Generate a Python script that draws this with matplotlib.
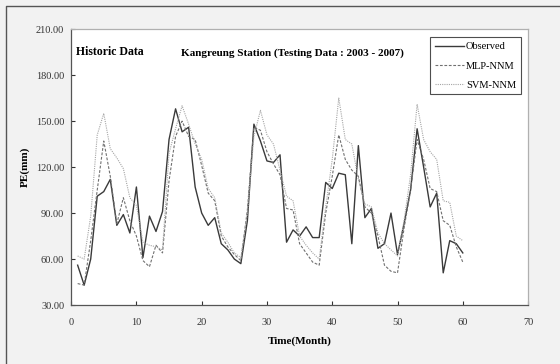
import matplotlib.pyplot as plt
from matplotlib.lines import Line2D

plt.rcParams['font.family'] = ['Liberation Serif', 'DejaVu Serif']

# monthly PE values (testing data 2003 - 2007)
months = list(range(1, 61))
observed = [56, 43, 60, 101, 104, 112, 82, 89, 77, 107,
            61, 88, 78, 91, 138, 158, 143, 146, 107, 90,
            82, 87, 70, 66, 60, 57, 85, 148, 137, 124,
            123, 128, 71, 79, 75, 81, 74, 74, 110, 106,
            116, 115, 70, 134, 87, 93, 67, 70, 90, 63,
            83, 105, 145, 120, 94, 103, 51, 72, 70, 64]
mlp_nnm = [44, 43, 72, 105, 137, 114, 83, 100, 85, 75,
           59, 55, 69, 64, 111, 140, 150, 140, 138, 121,
           103, 98, 75, 68, 63, 59, 92, 146, 144, 130,
           122, 115, 93, 92, 70, 64, 58, 56, 90, 114,
           141, 125, 118, 114, 94, 90, 75, 56, 52, 51,
           80, 105, 138, 125, 106, 104, 85, 82, 68, 58]
svm_nnm = [62, 60, 88, 141, 155, 132, 126, 119, 100, 95,
           71, 69, 68, 66, 129, 145, 160, 148, 135, 125,
           106, 100, 77, 71, 64, 61, 90, 140, 157, 141,
           135, 118, 101, 98, 75, 69, 64, 60, 94, 125,
           165, 138, 135, 112, 96, 94, 77, 70, 66, 62,
           85, 115, 161, 138, 130, 125, 98, 97, 75, 72]

x_ticks = [0, 10, 20, 30, 40, 50, 60, 70]
y_ticks = [30, 60, 90, 120, 150, 180, 210]

fig = plt.figure(figsize=(5.6, 3.64), dpi=100, facecolor='#f2f2f2')
# outer frame (only top and left edges show in the original)
fig.lines.append(Line2D([0.011, 0.011, 1.0], [0.0, 0.983, 0.983], transform=fig.transFigure,
                        color='#555555', linewidth=1.0))
ax = fig.add_axes([0.127, 0.162, 0.816, 0.758])

ax.plot(months, observed, color='#3a3a3a', linewidth=1.0, label='Observed')
ax.plot(months, mlp_nnm, color='#707070', linewidth=0.8, linestyle=(0, (2.5, 1.5)), label='MLP-NNM')
ax.plot(months, svm_nnm, color='#a5a5a5', linewidth=0.8, linestyle=(0, (1, 1)), label='SVM-NNM')

ax.set_xlim(0, 70)
ax.set_ylim(30, 210)
ax.set_xticks(x_ticks)
ax.set_yticks(y_ticks)
ax.set_yticklabels([f'{v:.2f}' for v in y_ticks])
ax.tick_params(direction='in', length=3, width=0.8, labelsize=7.5, colors='#333333')
ax.tick_params(axis='y', pad=5)
ax.tick_params(axis='x', pad=9)
for side in ['left', 'bottom']:
    ax.spines[side].set_color('#555555')
    ax.spines[side].set_linewidth(0.9)
for side in ['top', 'right']:
    ax.spines[side].set_color('#b0b0b0')
    ax.spines[side].set_linewidth(0.9)

ax.set_xlabel('Time(Month)', fontsize=8, fontweight='bold', labelpad=7)
ax.set_ylabel('PE(mm)', fontsize=8, fontweight='bold', labelpad=4)

ax.text(0.01, 0.905, 'Historic Data', transform=ax.transAxes, fontsize=8.5, fontweight='bold')
ax.text(0.241, 0.905, 'Kangreung Station (Testing Data : 2003 - 2007)', transform=ax.transAxes,
        fontsize=8.0, fontweight='bold')

leg = ax.legend(loc='upper right', bbox_to_anchor=(0.984, 0.97), fontsize=7.5, frameon=True,
                fancybox=False, edgecolor='#222222', handlelength=2.8, handletextpad=0.2,
                labelspacing=0.95, borderpad=0.45, borderaxespad=0.0)
leg.get_frame().set_linewidth(0.8)

plt.savefig('out.png', dpi=100, facecolor=fig.get_facecolor())
